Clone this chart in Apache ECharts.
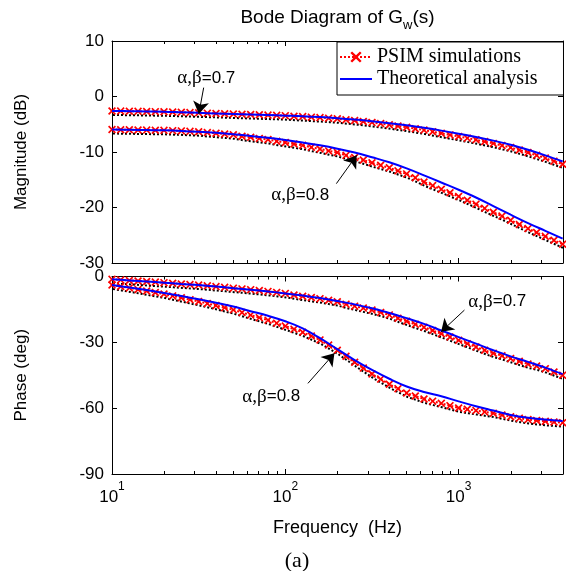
<!DOCTYPE html>
<html><head><meta charset="utf-8">
<script src="https://cdn.jsdelivr.net/npm/echarts@6/dist/echarts.min.js"></script>
<style>html,body{margin:0;padding:0;background:#fff}#c{width:566px;height:571px}</style>
</head><body><div id="c"></div>
<script>
// ---------- data ----------
const freqSim = [10, 11.22, 12.59, 14.13, 15.85, 17.78, 19.95, 22.39, 25.12, 28.18, 31.62, 35.48, 39.81, 44.67, 50.12, 56.23, 63.10, 70.79, 79.43, 89.13,
  100, 112.2, 125.9, 141.3, 158.5, 177.8, 199.5, 223.9, 251.2, 281.8, 316.2, 354.8, 398.1, 446.7, 501.2, 562.3, 631.0, 707.9, 794.3, 891.3,
  1000, 1122, 1259, 1413, 1585, 1778, 1995, 2239, 2512, 2818, 3162, 3548, 3981];
const freqTheory = [10, 12.59, 15.85, 19.95, 25.12, 31.62, 39.81, 50.12, 63.10, 79.43, 100, 125.9, 158.5, 199.5, 251.2, 316.2, 398.1, 501.2, 631.0, 794.3,
  1000, 1259, 1585, 1995, 2512, 3162, 3981];

const magTheory07 = [-2.6, -2.65, -2.7, -2.75, -2.85, -2.95, -3.05, -3.15, -3.25, -3.35, -3.45, -3.55, -3.7, -3.9, -4.15, -4.45, -4.8, -5.2, -5.65, -6.15, -6.7, -7.3, -7.95, -8.7, -9.6, -10.6, -11.7];
const magTheory08 = [-5.95, -6.0, -6.05, -6.1, -6.2, -6.35, -6.55, -6.8, -7.1, -7.45, -7.85, -8.3, -8.8, -9.4, -10.1, -10.95, -11.85, -12.95, -14.2, -15.5, -16.8, -18.2, -19.75, -21.3, -22.8, -24.2, -25.6];
const phaseTheory07 = [-1.3, -1.8, -2.3, -2.8, -3.4, -3.9, -4.6, -5.3, -6.0, -6.8, -7.7, -8.7, -9.8, -11.2, -12.7, -14.5, -16.6, -19.0, -21.6, -24.6, -27.6, -30.6, -33.6, -36.4, -38.9, -41.5, -44.5];
const phaseTheory08 = [-3.9, -5.0, -6.2, -7.5, -8.9, -10.4, -12.0, -13.7, -15.8, -17.9, -20.4, -23.6, -28.1, -33.1, -38.1, -42.6, -46.6, -50.1, -52.6, -54.6, -56.9, -59.1, -61.1, -63.1, -64.4, -65.2, -65.8];

const magSim07 = [-2.6, -2.63, -2.65, -2.68, -2.7, -2.73, -2.75, -2.8, -2.85, -2.9,
  -2.95, -3.0, -3.05, -3.1, -3.15, -3.2, -3.25, -3.3, -3.35, -3.4,
  -3.45, -3.55, -3.62, -3.72, -3.8, -3.9, -4.02, -4.18, -4.33, -4.5,
  -4.67, -4.88, -5.1, -5.32, -5.55, -5.8, -6.05, -6.35, -6.63, -6.92,
  -7.2, -7.5, -7.8, -8.13, -8.45, -8.83, -9.2, -9.65, -10.1, -10.6, -11.1, -11.65, -12.2];
const magSim08 = [-5.95, -5.98, -6.0, -6.03, -6.05, -6.08, -6.1, -6.15, -6.2, -6.28,
  -6.35, -6.5, -6.62, -6.76, -6.9, -7.15, -7.35, -7.55, -7.75, -8.05,
  -8.3, -8.55, -8.8, -9.15, -9.45, -9.8, -10.1, -10.6, -11.0, -11.45,
  -11.95, -12.4, -12.85, -13.4, -13.95, -14.65, -15.4, -16.05, -16.7, -17.35,
  -18.0, -18.7, -19.4, -20.15, -20.85, -21.55, -22.3, -23.05, -23.8, -24.5, -25.2, -25.9, -26.6];
const phaseSim07 = [-1.3, -1.55, -1.8, -2.05, -2.3, -2.55, -2.8, -3.1, -3.4, -3.65,
  -3.9, -4.25, -4.6, -4.95, -5.3, -5.65, -6.0, -6.4, -6.8, -7.25,
  -7.7, -8.4, -9.0, -9.55, -10.1, -10.8, -11.5, -12.6, -13.5, -14.4,
  -15.3, -16.35, -17.5, -19.0, -20.4, -21.8, -23.1, -24.6, -26.1, -27.6,
  -29.1, -30.6, -32.1, -33.6, -35.0, -36.1, -37.4, -38.65, -39.9, -40.8, -42.0, -43.5, -45.0];
const phaseSim08 = [-3.9, -4.55, -5.2, -5.9, -6.6, -7.3, -8.0, -8.85, -9.7, -10.55,
  -11.4, -12.3, -13.2, -14.2, -15.2, -16.4, -17.6, -18.75, -19.9, -21.25,
  -22.6, -24.0, -25.4, -27.15, -28.9, -31.25, -33.6, -36.35, -39.1, -41.75,
  -44.4, -46.75, -49.1, -51.1, -53.1, -54.45, -55.8, -56.8, -57.8, -58.85,
  -59.9, -60.5, -61.1, -61.7, -62.3, -63.1, -63.9, -64.55, -65.2, -65.6, -66.0, -66.3, -66.6];

const xMajorTicks = [10, 100, 1000];
const xMinorTicks = [20, 30, 40, 50, 60, 70, 80, 90, 200, 300, 400, 500, 600, 700, 800, 900, 2000, 3000, 4000];
const seriesNames = ['PSIM simulations', 'Theoretical analysis'];
const titleText = 'Bode Diagram of G{w|w}(s)';
const xLabel = 'Frequency  (Hz)';
const yLabelMag = 'Magnitude (dB)';
const yLabelPhase = 'Phase (deg)';
const caption = '(a)';

// annotations: text position, arrow start, arrow tip
const annMag07 = {text: '0.7', at: [35, 3.3], from: [33.8, 1.6], to: [31.7, -3.1]};
const annMag08 = {text: '0.8', at: [122, -17.8], from: [197, -15.7], to: [258, -10.6]};
const annPh07 = {text: '0.7', at: [1671, -11.5], from: [1080, -15.3], to: [792, -25.2]};
const annPh08 = {text: '0.8', at: [83, -54.8], from: [135, -48.7], to: [192, -35.0]};

// ---------- build ----------
const SANS = 'Liberation Sans';
const SERIF = 'Liberation Serif';
const XPATH = 'path://M0,3L3,0L10,7L17,0L20,3L13,10L20,17L17,20L10,13L3,20L0,17L7,10Z';
const pairs = (xs, ys) => xs.map((x, i) => [x, ys[i]]);

function xAxes(grid, withLabels) {
  const base = {type: 'log', logBase: 10, min: 10, max: 4000, gridIndex: grid, splitLine: {show: false}, minorTick: {show: false}};
  const lineStyle = {color: '#000', width: 1};
  return [
    Object.assign({}, base, {position: 'bottom', axisLine: {show: true, onZero: false, lineStyle},
      axisTick: {show: true, inside: true, length: 5, customValues: xMajorTicks, lineStyle},
      axisLabel: withLabels ? {show: true, customValues: xMajorTicks, margin: 7,
        formatter: v => '{b|10}{s|' + Math.round(Math.log10(v)) + '}',
        rich: {b: {fontFamily: SANS, fontSize: 17, color: '#000', verticalAlign: 'middle'},
               s: {fontFamily: SANS, fontSize: 12, color: '#000', verticalAlign: 'middle', padding: [0, 0, 20, 0]}}} : {show: false},
      name: withLabels ? xLabel : '', nameLocation: 'middle', nameGap: 45,
      nameTextStyle: {fontFamily: SANS, fontSize: 18, color: '#000'}}),
    Object.assign({}, base, {position: 'top', axisLine: {show: true, onZero: false, lineStyle},
      axisTick: {show: true, inside: true, length: 5, customValues: xMajorTicks, lineStyle}, axisLabel: {show: false}}),
    Object.assign({}, base, {position: 'bottom', axisLine: {show: false, onZero: false},
      axisTick: {show: true, inside: true, length: 3, customValues: xMinorTicks, lineStyle}, axisLabel: {show: false}}),
    Object.assign({}, base, {position: 'top', axisLine: {show: false, onZero: false},
      axisTick: {show: true, inside: true, length: 3, customValues: xMinorTicks, lineStyle}, axisLabel: {show: false}})
  ];
}
function yAxes(grid, min, max, interval, name) {
  const lineStyle = {color: '#000', width: 1};
  const base = {type: 'value', gridIndex: grid, min, max, interval, splitLine: {show: false}};
  return [
    Object.assign({}, base, {position: 'left', axisLine: {show: true, onZero: false, lineStyle},
      axisTick: {show: true, inside: true, length: 5, lineStyle},
      axisLabel: {show: true, margin: 8, fontFamily: SANS, fontSize: 17, color: '#000'},
      name, nameLocation: 'middle', nameGap: 82, nameTextStyle: {fontFamily: SANS, fontSize: 17, color: '#000'}}),
    Object.assign({}, base, {position: 'right', axisLine: {show: true, onZero: false, lineStyle},
      axisTick: {show: true, inside: true, length: 5, lineStyle}, axisLabel: {show: false}})
  ];
}
function annotation(a) {
  return {
    markPoint: {silent: true, animation: false, symbol: 'circle', symbolSize: 1, itemStyle: {color: 'rgba(0,0,0,0)'},
      label: {show: true, position: 'inside', color: '#000', formatter: () => '{g|α,β}{n|=' + a.text + '}',
        rich: {g: {fontFamily: SERIF, fontSize: 19, color: '#000'}, n: {fontFamily: SANS, fontSize: 17, color: '#000'}}},
      data: [{coord: a.at}]},
    markLine: {silent: true, animation: false, symbol: ['none', 'arrow'], symbolSize: 12,
      lineStyle: {color: '#000', width: 1, type: 'solid'}, label: {show: false},
      data: [[{coord: a.from, symbol: 'none'}, {coord: a.to, symbol: 'arrow', symbolSize: 12}]]}
  };
}
function simSeries(xi, yi, ys) {
  return {name: seriesNames[0], type: 'line', xAxisIndex: xi, yAxisIndex: yi, data: pairs(freqSim, ys),
    symbol: XPATH, symbolSize: 8, showSymbol: true, itemStyle: {color: '#ff0000'},
    lineStyle: {color: '#ff0000', width: 2, type: 'dotted', shadowColor: '#000', shadowOffsetY: 4, shadowOffsetX: 1, shadowBlur: 0},
    z: 2, silent: true};
}
function theorySeries(xi, yi, ys, ann) {
  return Object.assign({name: seriesNames[1], type: 'line', xAxisIndex: xi, yAxisIndex: yi, data: pairs(freqTheory, ys),
    symbol: 'none', smooth: 0.4, lineStyle: {color: '#0000ff', width: 2}, itemStyle: {color: '#0000ff'}, z: 3, silent: true}, annotation(ann));
}

const chart = echarts.init(document.getElementById('c'), null, {renderer: 'canvas'});
chart.setOption({
  animation: false,
  backgroundColor: '#fff',
  grid: [{left: 112, top: 41, width: 451, height: 222}, {left: 112, top: 276.5, width: 451, height: 197.5}],
  xAxis: [...xAxes(0, false), ...xAxes(1, true)],
  yAxis: [...yAxes(0, -30, 10, 10, yLabelMag), ...yAxes(1, -90, 0, 30, yLabelPhase)],
  legend: {data: [{name: seriesNames[0]}, {name: seriesNames[1], itemStyle: {color: 'rgba(0,0,0,0)', borderWidth: 0}}],
    orient: 'vertical', left: 337, top: 42, itemWidth: 32, itemHeight: 14, itemGap: 2,
    padding: [5, 26, 6, 2], borderColor: '#000', borderWidth: 1, backgroundColor: '#fff', selectedMode: false,
    textStyle: {fontFamily: SERIF, fontSize: 20, color: '#000'}},
  graphic: [
    {type: 'text', x: 337.5, y: 18, style: {text: titleText, align: 'center', verticalAlign: 'middle',
      fontFamily: SANS, fontSize: 19, fill: '#000',
      rich: {w: {fontFamily: SANS, fontSize: 13, fill: '#000', verticalAlign: 'middle', padding: [14, 0, 0, 0]}}}},
    {type: 'text', x: 297, y: 561, style: {text: caption, align: 'center', verticalAlign: 'middle', fontFamily: SERIF, fontSize: 22, fill: '#000'}}
  ],
  series: [
    simSeries(0, 0, magSim07), simSeries(0, 0, magSim08),
    simSeries(4, 2, phaseSim07), simSeries(4, 2, phaseSim08),
    theorySeries(0, 0, magTheory07, annMag07), theorySeries(0, 0, magTheory08, annMag08),
    theorySeries(4, 2, phaseTheory07, annPh07), theorySeries(4, 2, phaseTheory08, annPh08)
  ]
});
</script></body></html>
